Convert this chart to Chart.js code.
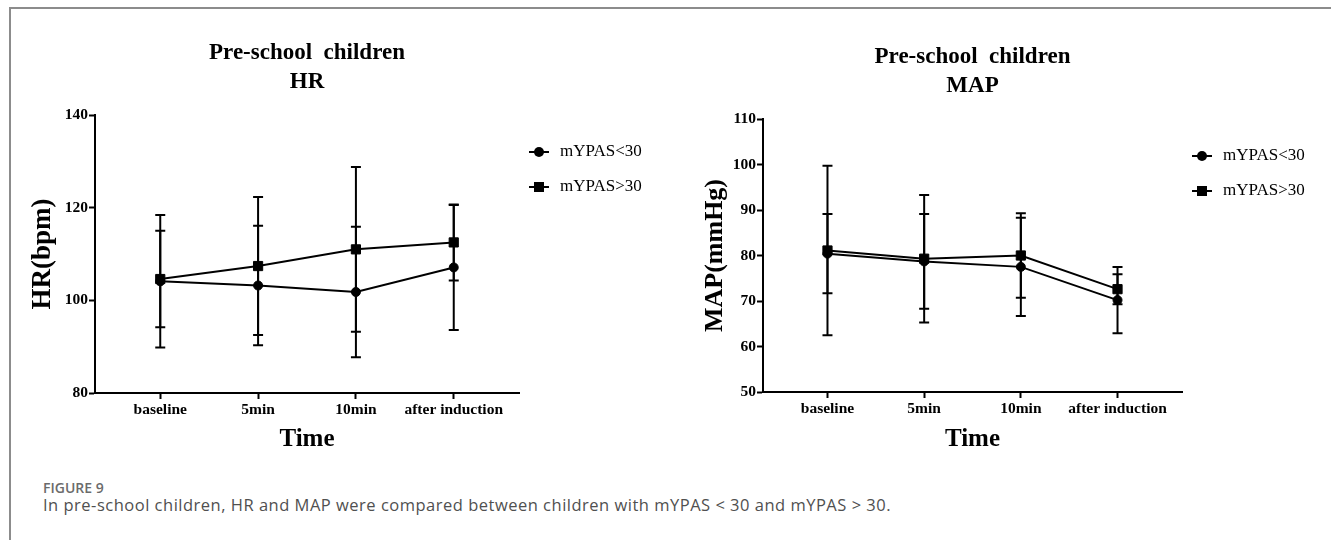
<!DOCTYPE html>
<html>
<head>
<meta charset="utf-8">
<script src="https://cdn.jsdelivr.net/npm/chart.js@4.4.1/dist/chart.umd.min.js"></script>
<style>
  body { margin: 0; background: #fff; width: 1331px; height: 540px; overflow: hidden; position: relative; }
  #frame { position: absolute; left: 9px; top: 7px; width: 1340px; height: 560px; border-left: 2px solid #8c8c8c; border-top: 2px solid #8c8c8c; }
  canvas { position: absolute; top: 0; }
  #hrChart { left: 0; }
  #mapChart { left: 660px; }
  .caption { position: absolute; left: 43px; font-family: "Open Sans", "Noto Sans", sans-serif; line-height: 1; white-space: nowrap; }
  #figLabel { top: 481px; font-size: 14px; font-weight: 600; color: #6b6b6b; }
  #figText { top: 497px; font-size: 16.5px; color: #505050; letter-spacing: 0.5px; }
</style>
</head>
<body>
<div id="frame"></div>
<canvas id="hrChart" width="660" height="470"></canvas>
<canvas id="mapChart" width="671" height="470"></canvas>
<div class="caption" id="figLabel">FIGURE 9</div>
<div class="caption" id="figText">In pre-school children, HR and MAP were compared between children with mYPAS &lt; 30 and mYPAS &gt; 30.</div>
<script>
const timeLabels = ["baseline", "5min", "10min", "after induction"];
const seriesNames = ["mYPAS<30", "mYPAS>30"];

// HR (bpm): mean and SD per group
const hrLowMean = [104.1, 103.2, 101.8, 107.1];
const hrLowSd = [14.3, 12.9, 14.1, 13.5];
const hrHighMean = [104.6, 107.4, 111.0, 112.5];
const hrHighSd = [10.4, 14.9, 17.8, 8.2];
const hrTicks = [80, 100, 120, 140];

// MAP (mmHg): mean and SD per group
const mapLowMean = [80.4, 78.7, 77.5, 70.2];
const mapLowSd = [8.7, 10.4, 10.8, 7.3];
const mapHighMean = [81.1, 79.3, 80.0, 72.6];
const mapHighSd = [18.6, 14.0, 9.3, 3.3];
const mapTicks = [50, 60, 70, 80, 90, 100, 110];

const serif = '"Liberation Serif", "Times New Roman", serif';

// error bars (mean +/- SD) drawn through the chart scales
const errorBars = {
	id: "errorBars",
	beforeDatasetsDraw(chart) {
		const ctx = chart.ctx;
		const xs = chart.scales.x, ys = chart.scales.y;
		ctx.save();
		ctx.strokeStyle = "#000";
		ctx.lineWidth = 2;
		chart.data.datasets.forEach(ds => {
			ds.data.forEach((pt, i) => {
				const x = xs.getPixelForValue(pt.x);
				const top = ys.getPixelForValue(pt.y + ds.sd[i]);
				const bot = ys.getPixelForValue(pt.y - ds.sd[i]);
				ctx.beginPath();
				ctx.moveTo(x, top); ctx.lineTo(x, bot);
				ctx.moveTo(x - 5, top); ctx.lineTo(x + 5, top);
				ctx.moveTo(x - 5, bot); ctx.lineTo(x + 5, bot);
				ctx.stroke();
			});
		});
		ctx.restore();
	}
};

// two-line title over the plot and the line+marker legend on the right
const panelText = {
	id: "panelText",
	afterDraw(chart, args, opts) {
		const { ctx, chartArea } = chart;
		const cx = (chartArea.left + chartArea.right) / 2;
		ctx.save();
		ctx.fillStyle = "#000";
		ctx.textAlign = "center";
		ctx.textBaseline = "alphabetic";
		ctx.font = "bold 23px " + serif;
		opts.title.forEach((line, i) => ctx.fillText(line, cx, chartArea.top - 56 + i * 29));

		const mx = chartArea.right + 20;
		chart.data.datasets.forEach((ds, i) => {
			const y = chartArea.top + 37 + i * 35;
			ctx.strokeStyle = "#000";
			ctx.lineWidth = 2;
			ctx.beginPath();
			ctx.moveTo(mx - 10, y); ctx.lineTo(mx + 10, y);
			ctx.stroke();
			ctx.beginPath();
			if (ds.pointStyle === "rect") ctx.rect(mx - 5, y - 5, 10, 10);
			else ctx.arc(mx, y, 5, 0, Math.PI * 2);
			ctx.fill();
			ctx.textAlign = "left";
			ctx.textBaseline = "middle";
			ctx.font = "17px " + serif;
			ctx.fillText(ds.label, mx + 21, y);
		});
		ctx.restore();
	}
};

function series(label, means, sds, style, radius) {
	return {
		label: label,
		data: means.map((v, i) => ({ x: i, y: v })),
		sd: sds,
		borderColor: "#000",
		borderWidth: 2,
		tension: 0,
		pointStyle: style,
		pointRadius: radius,
		pointBackgroundColor: "#000",
		pointBorderColor: "#000",
		pointBorderWidth: 1
	};
}

function makePanel(canvasId, cfg) {
	const canvas = document.getElementById(canvasId);
	const W = canvas.width, H = canvas.height, area = cfg.area;
	new Chart(canvas, {
		type: "line",
		data: {
			datasets: [
				series(seriesNames[0], cfg.lowMean, cfg.lowSd, "circle", 4.5),
				series(seriesNames[1], cfg.highMean, cfg.highSd, "rect", 6.5)
			]
		},
		options: {
			responsive: false,
			animation: false,
			events: [],
			layout: { padding: { left: 0, top: area.top, right: W - area.right, bottom: 0 } },
			plugins: {
				legend: { display: false },
				tooltip: { enabled: false },
				panelText: { title: cfg.title }
			},
			scales: {
				x: {
					type: "linear",
					min: -0.667,
					max: 3.667,
					afterBuildTicks: s => { s.ticks = timeLabels.map((_, i) => ({ value: i })); },
					afterFit: s => { s.height = H - area.bottom; },
					border: { color: "#000", width: 2 },
					grid: { drawOnChartArea: false, tickLength: 6, tickWidth: 2, tickColor: "#000" },
					ticks: {
						color: "#000",
						autoSkip: false,
						maxRotation: 0,
						minRotation: 0,
						padding: 2,
						font: { family: serif, size: 15.5, weight: "bold" },
						callback: v => timeLabels[Math.round(v)]
					},
					title: {
						display: true,
						text: "Time",
						color: "#000",
						font: { family: serif, size: 25, weight: "bold", lineHeight: 1 },
						padding: { top: 0, bottom: 18 }
					}
				},
				y: {
					type: "linear",
					min: cfg.ticks[0],
					max: cfg.ticks[cfg.ticks.length - 1],
					afterBuildTicks: s => { s.ticks = cfg.ticks.map(v => ({ value: v })); },
					afterFit: s => { s.width = area.left; },
					border: { color: "#000", width: 2 },
					grid: { drawOnChartArea: false, tickLength: 6, tickWidth: 2, tickColor: "#000" },
					ticks: {
						color: "#000",
						padding: 1,
						font: { family: serif, size: 15.5, weight: "bold" }
					},
					title: {
						display: true,
						text: cfg.yTitle,
						color: "#000",
						font: { family: serif, size: cfg.yTitleSize, weight: "bold", lineHeight: 1 },
						padding: { top: cfg.yTitleOffset, bottom: 0 }
					}
				}
			}
		},
		plugins: [errorBars, panelText]
	});
}

makePanel("hrChart", {
	title: ["Pre-school  children", "HR"],
	yTitle: "HR(bpm)",
	yTitleSize: 27,
	yTitleOffset: 29.5,
	ticks: hrTicks,
	lowMean: hrLowMean, lowSd: hrLowSd,
	highMean: hrHighMean, highSd: hrHighSd,
	area: { left: 95, right: 519, top: 115, bottom: 393 }
});

makePanel("mapChart", {
	title: ["Pre-school  children", "MAP"],
	yTitle: "MAP(mmHg)",
	yTitleSize: 26,
	yTitleOffset: 42,
	ticks: mapTicks,
	lowMean: mapLowMean, lowSd: mapLowSd,
	highMean: mapHighMean, highSd: mapHighSd,
	area: { left: 103, right: 522, top: 119, bottom: 392 }
});
</script>
</body>
</html>
